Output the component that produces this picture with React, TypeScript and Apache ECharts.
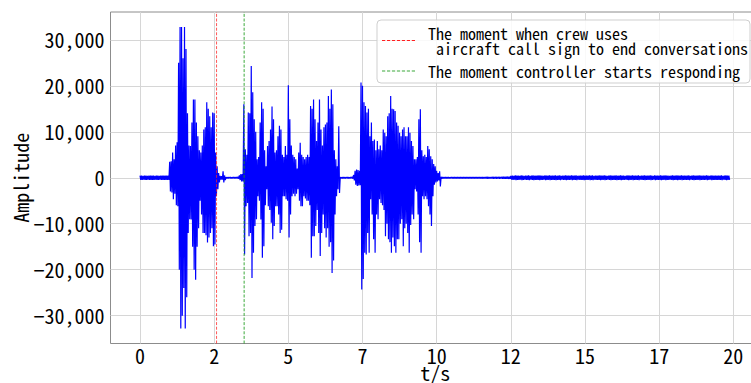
import React, { useEffect, useRef } from 'react';
import * as echarts from 'echarts';

// Envelope of the recorded waveform, one value pair per 50 ms bin.
const BIN = 0.05;

// Leading silence, 0.00–0.95 s (symmetric noise amplitude)
const leadStart = 0;
const leadAmp = [440, 460, 420, 450, 480, 430, 460, 440, 470, 450, 420, 460, 450, 430, 480, 460, 440, 450, 470, 450];

// Crew transmission, 1.00–3.40 s
const crewStart = 1.0;
const crewHigh = [
  3500, 3600, 5500, 4000, 7000, 7700, 25000, 32767, 32767, 26000,
  32767, 28000, 14000, 7000, 6900, 12000, 17000, 17000, 12000, 9000,
  6000, 5500, 7000, 10500, 11000, 16400, 15000, 13400, 11000, 14200,
  14000, 5500, 2500, 1000, 400, 350, 1400, 500, 150, 120,
  150, 130, 120, 150, 130, 140, 200, 500, 800,
];
const crewLow = [
  -3000, -3200, -4700, -3500, -6000, -6200, -20000, -32768, -30000, -24000,
  -32768, -26000, -12000, -9000, -9100, -15000, -20000, -22200, -15000, -11000,
  -5000, -8000, -12000, -12000, -12500, -14100, -13000, -12000, -11000, -14900,
  -14500, -4000, -2500, -1000, -400, -400, -1000, -500, -150, -130,
  -120, -150, -120, -140, -120, -150, -200, -500, -800,
];

// Controller reply, first part, 3.45–7.15 s
const ctrlAStart = 3.45;
const ctrlAHigh = [
  800, 16000, 6200, 5000, 14200, 14000, 24300, 18600, 12700, 10000,
  4000, 4500, 12000, 16400, 15000, 6000, 2500, 6900, 8000, 10500,
  15500, 12700, 5500, 6000, 9000, 11300, 10500, 5000, 4500, 6900,
  5000, 20100, 12700, 7000, 5000, 4500, 4000, 2000, 5500, 7600,
  5000, 4500, 4000, 4500, 5000, 4500, 15600, 15000, 17000, 12700,
  8000, 12000, 17000, 10500, 7000, 11000, 11600, 12000, 17800, 15000,
  19200, 16000, 6000, 4000, 2500, 11200, 150, 120, 130, 120,
  150, 130, 120, 140, 200,
];
const ctrlALow = [
  -800, -16700, -6200, -5500, -12700, -12000, -21800, -16300, -10500, -9000,
  -4000, -5000, -9100, -17400, -14900, -6000, -2500, -6200, -7000, -9800,
  -13400, -10500, -6200, -6200, -8000, -12000, -11300, -4000, -4000, -4700,
  -5000, -13000, -8000, -4000, -3500, -4000, -3500, -2500, -5000, -6200,
  -6200, -4000, -4500, -5000, -5000, -6000, -17400, -12700, -12700, -10500,
  -7000, -12000, -17000, -12000, -8000, -11000, -13000, -11000, -15000, -14000,
  -20700, -18000, -8000, -4000, -2500, -3300, -150, -120, -130, -140,
  -120, -130, -150, -120, -200,
];

// Controller reply, second part, 7.20–10.15 s
const ctrlBStart = 7.2;
const ctrlBHigh = [
  600, 1500, 1800, 1700, 1500, 20700, 20000, 16400, 15600, 14200,
  15000, 9000, 12000, 8000, 8300, 6000, 8000, 6200, 7000, 6000,
  10500, 9800, 9000, 13400, 14000, 17800, 15000, 14900, 14500, 12000,
  11300, 9800, 9000, 10500, 11000, 9000, 9000, 11000, 9800, 8000,
  6900, 4000, 4000, 4500, 12700, 14900, 6000, 4700, 5000, 4500,
  6900, 6200, 4700, 4000, 3000, 2500, 1500, 1000, 1400, 200,
];
const ctrlBLow = [
  -600, -1500, -1800, -1700, -1600, -24300, -22000, -16300, -16700, -12000,
  -16300, -4700, -8000, -13400, -16300, -8000, -9000, -4700, -5500, -6000,
  -7000, -12700, -10000, -13400, -14000, -16300, -13000, -14900, -16300, -13400,
  -13400, -10000, -9000, -14900, -11000, -10000, -12000, -16300, -10300, -8000,
  -9000, -2500, -3000, -8000, -14000, -16300, -4000, -4700, -4000, -4700,
  -6200, -8000, -10500, -4000, -1500, -1000, -800, -600, -1900, -200,
];

// Trailing channel noise, 10.20–19.85 s (symmetric noise amplitude)
const tailStart = 10.2;
const tailAmp = [
  150, 130, 170, 140, 160, 120, 150, 170, 140, 160,
  130, 170, 150, 140, 160, 170, 130, 150, 170, 140,
  160, 150, 180, 140, 170, 160, 190, 150, 180, 170,
  200, 160, 190, 180, 210, 170, 200, 190, 220, 180,
  210, 240, 200, 230, 260, 240,
  420, 470, 400, 500, 450, 480, 410, 510, 460, 430,
  490, 450, 520, 420, 470, 500, 440, 480, 460, 510,
  450, 490, 430, 520, 470, 440, 500, 460, 480, 450,
  510, 440, 470, 500, 430, 490, 460, 520, 450, 480,
  440, 500, 470, 450, 510, 430, 480, 460, 490, 520,
  450, 470, 440, 500, 460, 510, 430, 480, 490, 450,
  520, 460, 440, 500, 470, 430, 490, 510, 450, 480,
  460, 500, 440, 470, 520, 450, 490, 430, 480, 510,
  470, 440, 500, 460, 490, 450, 520, 430, 480, 470,
  510, 450, 490, 440, 500, 460, 430, 520, 470, 480,
  450, 500, 460, 440, 510, 470, 490, 430, 480, 520,
  460, 450, 500, 470, 440, 510, 480, 460, 490, 450,
  520, 430, 470, 500, 450, 480, 440, 510, 460, 490,
  480, 440, 510, 460, 430, 500, 470, 450, 490, 460,
  470, 450, 500, 430, 480, 510, 460, 440,
];

// Event markers (seconds)
const crewEndTime = 2.58;
const controllerStartTime = 3.51;

const xTicks = [0, 2.5, 5, 7.5, 10, 12.5, 15, 17.5, 20];
const yTicks = [-30000, -20000, -10000, 0, 10000, 20000, 30000];
const xRange = [-0.995, 20.9];
const yRange = [-36045, 36045];

const crewLabel = 'The moment when crew uses\n\u00a0aircraft call sign to end conversations';
const ctrlLabel = 'The moment controller starts responding';

const MONO = '"Noto Sans Mono CJK SC", "DejaVu Sans Mono", monospace';

// Dashed-line legend handle
const DASH_ICON =
  'path://M0,0H3V1H0Z M4.6,0H7.6V1H4.6Z M9.2,0H12.2V1H9.2Z M13.8,0H16.8V1H13.8Z M18.4,0H21.4V1H18.4Z M23,0H26V1H23Z M27.6,0H30.6V1H27.6Z';

// Turn the per-bin envelope into a dense up/down trace.
function trace(start: number, high: number[], low: number[]) {
  const pts: number[][] = [];
  for (let i = 0; i < high.length; i++) {
    const t = start + i * BIN;
    pts.push([t, high[i]]);
    pts.push([t + BIN / 2, low[i]]);
  }
  return pts;
}

function waveform() {
  return [
    ...trace(leadStart, leadAmp, leadAmp.map((a) => -a)),
    ...trace(crewStart, crewHigh, crewLow),
    ...trace(ctrlAStart, ctrlAHigh, ctrlALow),
    ...trace(ctrlBStart, ctrlBHigh, ctrlBLow),
    ...trace(tailStart, tailAmp, tailAmp.map((a) => -a)),
  ];
}

function fmtAmp(v: number) {
  const s = Math.abs(v).toLocaleString('en-US');
  return v < 0 ? '\u2212' + s : s;
}

export default function App() {
  const ref = useRef<HTMLDivElement>(null);

  useEffect(() => {
    if (!ref.current) return;
    const chart = echarts.init(ref.current, undefined, { renderer: 'svg' });
    chart.setOption({
      animation: false,
      backgroundColor: '#ffffff',
      textStyle: { fontFamily: MONO },
      grid: {
        left: 110.5,
        top: 12,
        width: 649.5,
        height: 331.5,
        outerBoundsMode: 'none',
        containLabel: false,
        show: true,
        borderColor: '#8c8c8c',
        borderWidth: 1,
        backgroundColor: 'transparent',
      },
      legend: {
        left: 377,
        top: 20,
        orient: 'vertical',
        padding: [5, 2, 4, 5],
        itemWidth: 33,
        itemHeight: 1.1,
        itemGap: 7,
        icon: DASH_ICON,
        backgroundColor: 'rgba(255,255,255,0.85)',
        borderColor: '#cfcfcf',
        borderWidth: 1,
        borderRadius: 4,
        textStyle: { fontFamily: MONO, fontSize: 16, lineHeight: 15, color: '#000', padding: [0, 0, 0, 8] },
        data: [crewLabel, ctrlLabel],
      },
      xAxis: {
        type: 'value',
        min: xRange[0],
        max: xRange[1],
        name: 't/s',
        nameLocation: 'middle',
        nameGap: 19,
        nameMoveOverlap: false,
        nameTextStyle: { fontFamily: MONO, fontSize: 20, color: '#000' },
        axisLine: { show: false },
        axisTick: { show: false, customValues: xTicks },
        axisLabel: {
          customValues: xTicks,
          formatter: (v: number) => String(Math.trunc(v)),
          fontFamily: MONO,
          fontSize: 20,
          color: '#000',
          margin: 2,
        },
        splitLine: { show: true, lineStyle: { color: '#d6d6d6', width: 1 } },
      },
      yAxis: {
        type: 'value',
        min: yRange[0],
        max: yRange[1],
        name: 'Amplitude',
        nameLocation: 'middle',
        nameGap: 80,
        nameMoveOverlap: false,
        nameTextStyle: { fontFamily: MONO, fontSize: 20, color: '#000' },
        axisLine: { show: false },
        axisTick: { show: false, customValues: yTicks },
        axisLabel: {
          customValues: yTicks,
          formatter: fmtAmp,
          fontFamily: MONO,
          fontSize: 20,
          color: '#000',
          margin: 6,
        },
        splitLine: { show: true, lineStyle: { color: '#d6d6d6', width: 1 } },
      },
      series: [
        {
          name: 'waveform',
          type: 'line',
          data: waveform(),
          symbol: 'none',
          lineStyle: { color: '#0000ff', width: 1.2 },
          z: 2,
        },
        {
          name: crewLabel,
          type: 'line',
          data: [[crewEndTime, yRange[0]], [crewEndTime, yRange[1]]],
          symbol: 'none',
          itemStyle: { color: '#ff2020' },
          lineStyle: { color: 'rgba(255,32,32,0.75)', width: 1, type: [3, 1.6] },
          z: 3,
        },
        {
          name: ctrlLabel,
          type: 'line',
          data: [[controllerStartTime, yRange[0]], [controllerStartTime, yRange[1]]],
          symbol: 'none',
          itemStyle: { color: '#3aa83a' },
          lineStyle: { color: 'rgba(26,154,26,0.85)', width: 1, type: [3, 1.6] },
          z: 3,
        },
      ],
    });
    return () => chart.dispose();
  }, []);

  return (
    <div
      ref={ref}
      style={{ position: 'fixed', left: 0, top: 0, width: 751, height: 383, background: '#fff' }}
    />
  );
}
